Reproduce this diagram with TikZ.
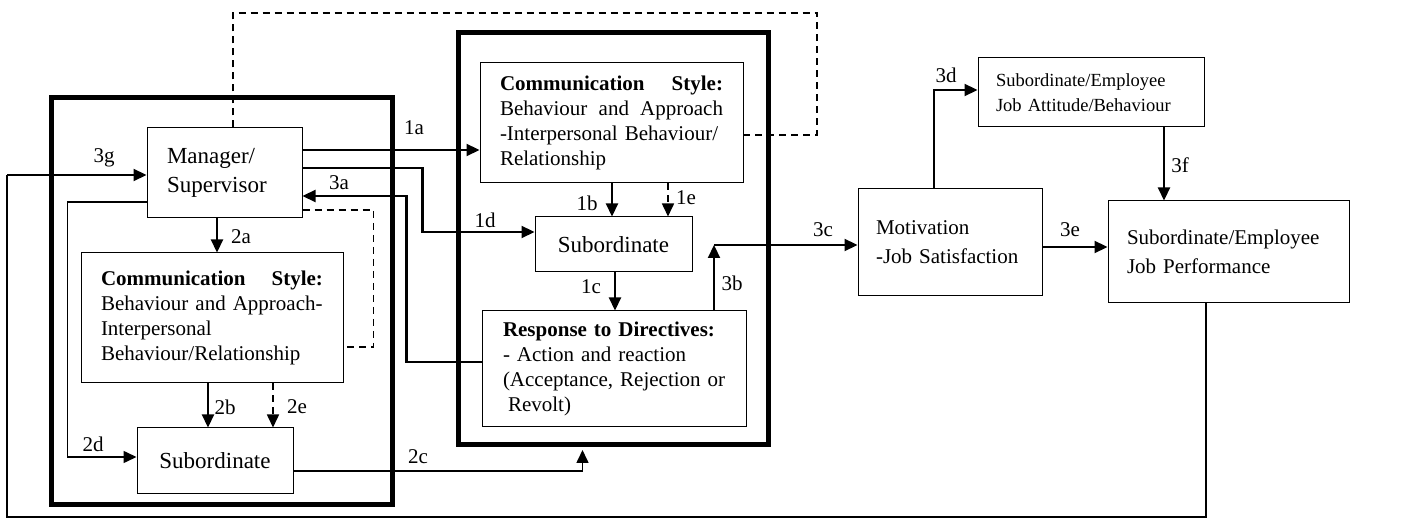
\documentclass[tikz,border=0pt]{standalone}
\usepackage{fontspec}
\setmainfont{Liberation Serif}
\usetikzlibrary{arrows.meta,calc}
\begin{document}
\begin{tikzpicture}[x=1pt,y=-1pt,
  box/.style={draw,line width=1pt,inner sep=0pt,align=left},
  frame/.style={draw,line width=5pt,inner sep=0pt},
  tip/.style={-{Triangle[length=13pt,width=12pt]}},
  conn/.style={line width=2.2pt,tip},
  thinconn/.style={line width=1.4pt},
  dashconn/.style={line width=1.6pt,dash pattern=on 7pt off 5pt},
  lbl/.style={inner sep=0pt,font=\fontsize{21}{24}\selectfont},
  fa/.style={font=\fontsize{21}{24.7}\selectfont},
  fb/.style={font=\fontsize{23}{29}\selectfont},
  fc/.style={font=\fontsize{21}{29}\selectfont},
  fd/.style={font=\fontsize{18.5}{25}\selectfont}
]
\useasboundingbox (0,0) rectangle (1428,518);

% thick frames
\node[frame, minimum width=341pt, minimum height=407.5pt] (frameL) at (221.5,301.25) {};
\node[frame, minimum width=310pt, minimum height=412pt] (frameM) at (613.5,239) {};

% boxes
\node[box, fb, minimum width=155pt, minimum height=90pt, text width=115pt] (mgr) at (224.5,173) {Manager/\\Supervisor};
\node[box, fa, minimum width=262pt, minimum height=130pt, text width=222pt] (cs2) at (212,318)
  {\makebox[222pt][s]{\textbf{Communication}\hfill\textbf{Style:}}\\\mbox{Behaviour and Approach-}\\Interpersonal\\\mbox{Behaviour/Relationship}};
\node[box, fb, minimum width=156pt, minimum height=66pt] (sub2) at (215,461) {Subordinate};

\node[box, fa, minimum width=263pt, minimum height=120pt, text width=223pt] (cs1) at (611.5,123)
  {\makebox[223pt][s]{\textbf{Communication}\hfill\textbf{Style:}}\\\makebox[223pt][s]{Behaviour\hfill and\hfill Approach}\\\mbox{-Interpersonal Behaviour/}\\Relationship};
\node[box, fb, minimum width=157pt, minimum height=55pt] (sub1) at (613.5,244.5) {Subordinate};
\node[box, fa, minimum width=264pt, minimum height=116pt, text width=222pt] (resp) at (614,369)
  {\mbox{\textbf{Response to Directives:}}\\\mbox{- Action and reaction}\\\mbox{(Acceptance, Rejection or}\\\hspace*{5pt}Revolt)};

\node[box, fc, minimum width=184pt, minimum height=107pt, text width=148pt] (motiv) at (950,242.5) {Motivation\\\mbox{-Job Satisfaction}};
\node[box, fd, minimum width=226pt, minimum height=69pt, text width=190pt] (att) at (1091,92.5) {\mbox{Subordinate/Employee}\\\mbox{Job Attitude/Behaviour}};
\node[box, fc, minimum width=241pt, minimum height=102pt, text width=203pt] (perf) at (1228.5,252) {\mbox{Subordinate/Employee}\\Job Performance};

% coordinates
\coordinate (dtop) at (817,13);
\coordinate (c3) at (714,245);
\coordinate (lb) at (7,517);
\coordinate (c3g) at (7,175);

% connectors
\draw[conn] ([yshift=23pt]mgr.east) -- ([yshift=23pt]mgr.east -| cs1.west);
\draw[conn] ([yshift=5pt]mgr.east) -- ++(120,0) |- ([yshift=12.5pt]sub1.west);
\draw[conn] ([yshift=7pt]resp.west) -- ++(-75,0) |- ([yshift=-23pt]mgr.east);
\draw[dashconn] ([xshift=8.5pt]mgr.north) |- (dtop) |- ([yshift=-12pt]cs1.east);
\draw[dashconn] ([yshift=-37pt]mgr.east) -- ++(71,0) |- ([yshift=-29pt]cs2.east);
\draw[conn] ([xshift=-7.5pt]mgr.south) -- ([xshift=-7.5pt]mgr.south |- cs2.north);
\draw[conn] ([xshift=-4pt]cs2.south) -- ([xshift=-4pt]cs2.south |- sub2.north);
\draw[dashconn,tip] ([xshift=61pt]cs2.south) -- ([xshift=61pt]cs2.south |- sub2.north);
\draw[thinconn,line width=1.6pt,tip] ([yshift=-29pt]mgr.west) -- ++(-79,0) |- ([yshift=4pt]sub2.west);
\draw[thinconn,line width=1.6pt,tip] ([yshift=-10pt]sub2.east) -| ([xshift=-31pt,yshift=-2.5pt]frameM.south);
\draw[conn] ([xshift=0.5pt]cs1.south) -- ([xshift=0.5pt]cs1.south |- sub1.north);
\draw[dashconn,tip] ([xshift=56.5pt]cs1.south) -- ([xshift=56.5pt]cs1.south |- sub1.north);
\draw[conn] ([xshift=1.5pt]sub1.south) -- ([xshift=1.5pt]sub1.south |- resp.north);
\draw[conn] ([xshift=100pt]resp.north) -- (c3);
\draw[conn] (c3) -- (c3 -| motiv.west);
\draw[conn] ([xshift=-16pt]motiv.north) |- ([yshift=2.5pt]att.west);
\draw[conn] ([xshift=73pt]att.south) -- ([xshift=73pt]att.south |- perf.north);
\draw[conn] ([yshift=-4.5pt]motiv.east) -- ([yshift=-4.5pt]motiv.east -| perf.west);
\draw[thinconn,line width=1.3pt] ([xshift=-22.5pt]perf.south) |- (lb) -- (c3g);
\draw[conn] (c3g) -- ([yshift=-2pt]mgr.west);

% labels
\node[lbl] (l1a) at (414,128) {1a};
\node[lbl] (l3g) at (104,158) {3g};
\node[lbl] (l3a) at (339,183) {3a};
\node[lbl] (l2a) at (241,237) {2a};
\node[lbl] (l1d) at (485,220) {1d};
\node[lbl] (l1b) at (587,203) {1b};
\node[lbl] (l1e) at (686,198) {1e};
\node[lbl] (l3c) at (823,230) {3c};
\node[lbl] (l1c) at (591,287) {1c};
\node[lbl] (l3b) at (732,283) {3b};
\node[lbl] (l2b) at (225,407) {2b};
\node[lbl] (l2e) at (297,407) {2e};
\node[lbl] (l2d) at (93,444) {2d};
\node[lbl] (l2c) at (418,457) {2c};
\node[lbl] (l3d) at (946,75) {3d};
\node[lbl] (l3f) at (1180,165) {3f};
\node[lbl] (l3e) at (1070,230) {3e};
\end{tikzpicture}
\end{document}
